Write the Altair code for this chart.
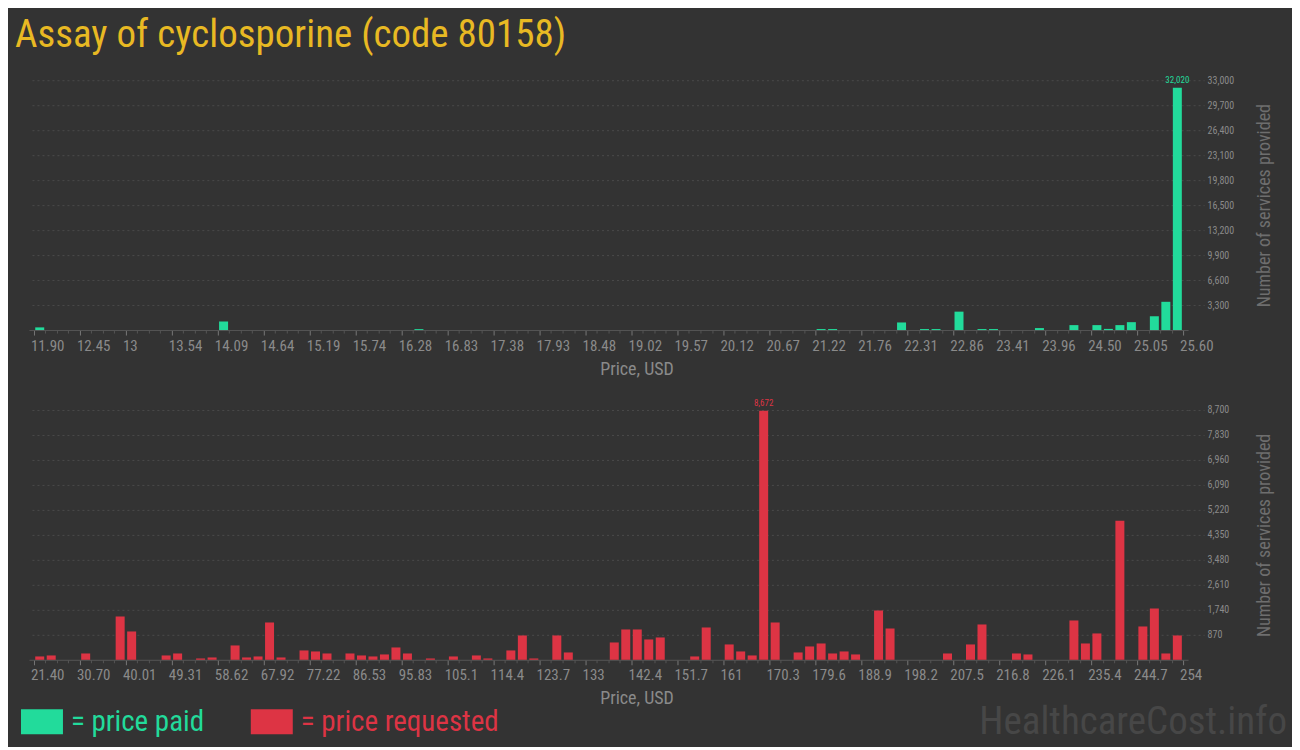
import altair as alt
import pandas as pd

# ---------------- data ----------------
# 100 equal-width price bins per panel; bin index -> number of services
paid_bins = [0, 16, 33, 68, 69, 75, 77, 78, 80, 82, 83, 87, 90, 92, 93, 94, 95, 97, 98, 99]
paid_counts = [350, 1130, 120, 130, 130, 1000, 130, 130, 2430, 130, 130, 260, 650, 650, 150, 650, 1040, 1820, 3730, 32020]

req_bins = [0, 1, 4, 7, 8, 11, 12, 14, 15, 17, 18, 19, 20, 21, 23, 24, 25, 27, 28, 29, 30, 31, 32,
            34, 36, 38, 39, 41, 42, 43, 45, 46, 50, 51, 52, 53, 54, 57, 58, 60, 61, 62, 63, 64,
            66, 67, 68, 69, 70, 71, 73, 74, 79, 81, 82, 85, 86, 90, 91, 92, 94, 96, 97, 98, 99]
req_counts = [116, 151, 220, 1508, 986, 151, 220, 46, 81, 499, 81, 116, 1299, 81, 325, 290, 220,
              220, 151, 116, 186, 429, 220, 46, 116, 151, 46, 325, 847, 46, 847, 255, 603, 1056,
              1056, 708, 777, 116, 1125, 534, 290, 151, 8672, 1299, 255, 464, 568, 220, 290, 186,
              1717, 1090, 220, 534, 1230, 220, 186, 1369, 568, 917, 4840, 1160, 1786, 220, 847]

paid_tick_labels = ["11.90", "12.45", "13", "13.54", "14.09", "14.64", "15.19", "15.74", "16.28",
                    "16.83", "17.38", "17.93", "18.48", "19.02", "19.57", "20.12", "20.67", "21.22",
                    "21.76", "22.31", "22.86", "23.41", "23.96", "24.50", "25.05", "25.60"]
req_tick_labels = ["21.40", "30.70", "40.01", "49.31", "58.62", "67.92", "77.22", "86.53", "95.83",
                   "105.1", "114.4", "123.7", "133", "142.4", "151.7", "161", "170.3", "179.6",
                   "188.9", "198.2", "207.5", "216.8", "226.1", "235.4", "244.7", "254"]

paid_y_ticks = [3300, 6600, 9900, 13200, 16500, 19800, 23100, 26400, 29700, 33000]
req_y_ticks = [870, 1740, 2610, 3480, 4350, 5220, 6090, 6960, 7830, 8700]

N_BINS = 100
TITLE = "Assay of cyclosporine (code 80158)"
PAID_NAME = "= price paid"
REQ_NAME = "= price requested"

GREEN = "#22db9b"
RED = "#dd3444"
GOLD = "#e8b923"
BG = "#333333"
GRID = "#4a4a4a"
TXT = "#8a8a8a"
FONT = "Roboto Condensed, Roboto"

W, H = 1160, 250


def panel(bins, counts, tick_labels, y_ticks, color, name, legend_x, legend_y, watermark=False):
    df = pd.DataFrame({"bin": bins, "count": counts, "series": name})
    arr = "[" + ",".join("'%s'" % t for t in tick_labels) + "]"
    xaxis = alt.Axis(
        values=list(range(0, N_BINS + 1)),
        labelExpr="datum.value %% 4 === 0 ? %s[round(datum.value / 4)] : ''" % arr,
        labelOverlap=False,
        labelAlign="left",
        labelOffset=-3.5,
        labelPadding=3,
        labelFont=FONT,
        labelFontSize=15,
        labelColor=TXT,
        tickSize={"condition": {"test": "datum.value % 4 === 0", "value": 5}, "value": 3},
        tickColor={"condition": {"test": "datum.value % 4 === 0", "value": "#777777"}, "value": "#555555"},
        domainColor="#555555",
        grid=False,
        title="Price, USD",
        titleFont=FONT,
        titleFontSize=18,
        titleFontWeight="normal",
        titleColor=TXT,
        titleX=608,
        titleY=39,
        titleAlign="center",
        titleBaseline="middle",
    )
    yaxis = alt.Axis(
        orient="right",
        values=y_ticks,
        format=",d",
        grid=True,
        gridColor=GRID,
        gridDash=[2, 3],
        domain=False,
        tickSize=16,
        tickColor=GRID,
        tickDash=[2, 3],
        labelPadding=3,
        labelFont=FONT,
        labelFontSize=10,
        labelColor=TXT,
        title="Number of services provided",
        titleFont=FONT,
        titleFontSize=18,
        titleFontWeight="normal",
        titleColor="#6e6e6e",
        titleAngle=270,
        titleX=76,
        titleY=H / 2,
        titleAlign="center",
        titleBaseline="middle",
    )
    x = alt.X("pos:Q", scale=alt.Scale(domain=[0, N_BINS], nice=False, zero=False), axis=xaxis)
    y = alt.Y("count:Q", scale=alt.Scale(domain=[0, max(y_ticks)], nice=False), axis=yaxis)

    base = alt.Chart(df).transform_calculate(pos="datum.bin + 0.5")
    bars = base.mark_bar(width=9).encode(
        x=x,
        y=y,
        color=alt.Color(
            "series:N",
            scale=alt.Scale(domain=[name], range=[color]),
            legend=alt.Legend(
                title=None,
                orient="none",
                legendX=legend_x,
                legendY=legend_y,
                direction="horizontal",
                symbolType="M-1,-0.6H1V0.6H-1Z",
                symbolSize=1764,
                symbolStrokeWidth=0,
                symbolOpacity=1,
                labelFont=FONT,
                labelFontSize=29,
                labelColor=color,
                labelOffset=8,
                labelLimit=400,
            ),
        ),
    )
    peak = (
        base.transform_joinaggregate(mx="max(count)")
        .transform_filter("datum.count === datum.mx")
        .mark_text(dy=-8, fontSize=9, font=FONT, color=color)
        .encode(x=x, y=y, text=alt.Text("count:Q", format=","))
    )
    layers = [bars, peak]
    if watermark:
        wm = (
            alt.Chart(pd.DataFrame({"t": ["HealthcareCost.info"]}))
            .mark_text(font=FONT, fontSize=39, color="#474747", align="right", baseline="middle")
            .encode(text="t:N", x=alt.value(1259), y=alt.value(312))
        )
        layers.append(wm)
    return alt.layer(*layers).properties(width=W, height=H)


top = panel(paid_bins, paid_counts, paid_tick_labels, paid_y_ticks, GREEN, PAID_NAME, -8, 621)
bottom = panel(req_bins, req_counts, req_tick_labels, req_y_ticks, RED, REQ_NAME, 222, 291, watermark=True)

chart = (
    alt.vconcat(top, bottom, spacing=80, bounds="flush")
    .resolve_scale(color="independent", x="independent", y="independent")
    .resolve_legend(color="independent")
    .properties(
        title=alt.TitleParams(
            TITLE, anchor="start", frame="group", font=FONT, fontSize=39, fontWeight="normal",
            color=GOLD, dx=-14, offset=20
        ),
        background=BG,
        padding={"left": 7, "top": 8, "right": 5, "bottom": 5},
    )
    .configure_view(stroke=None)
)

chart.save("out.html", embed_options={"renderer": "svg", "actions": False})
